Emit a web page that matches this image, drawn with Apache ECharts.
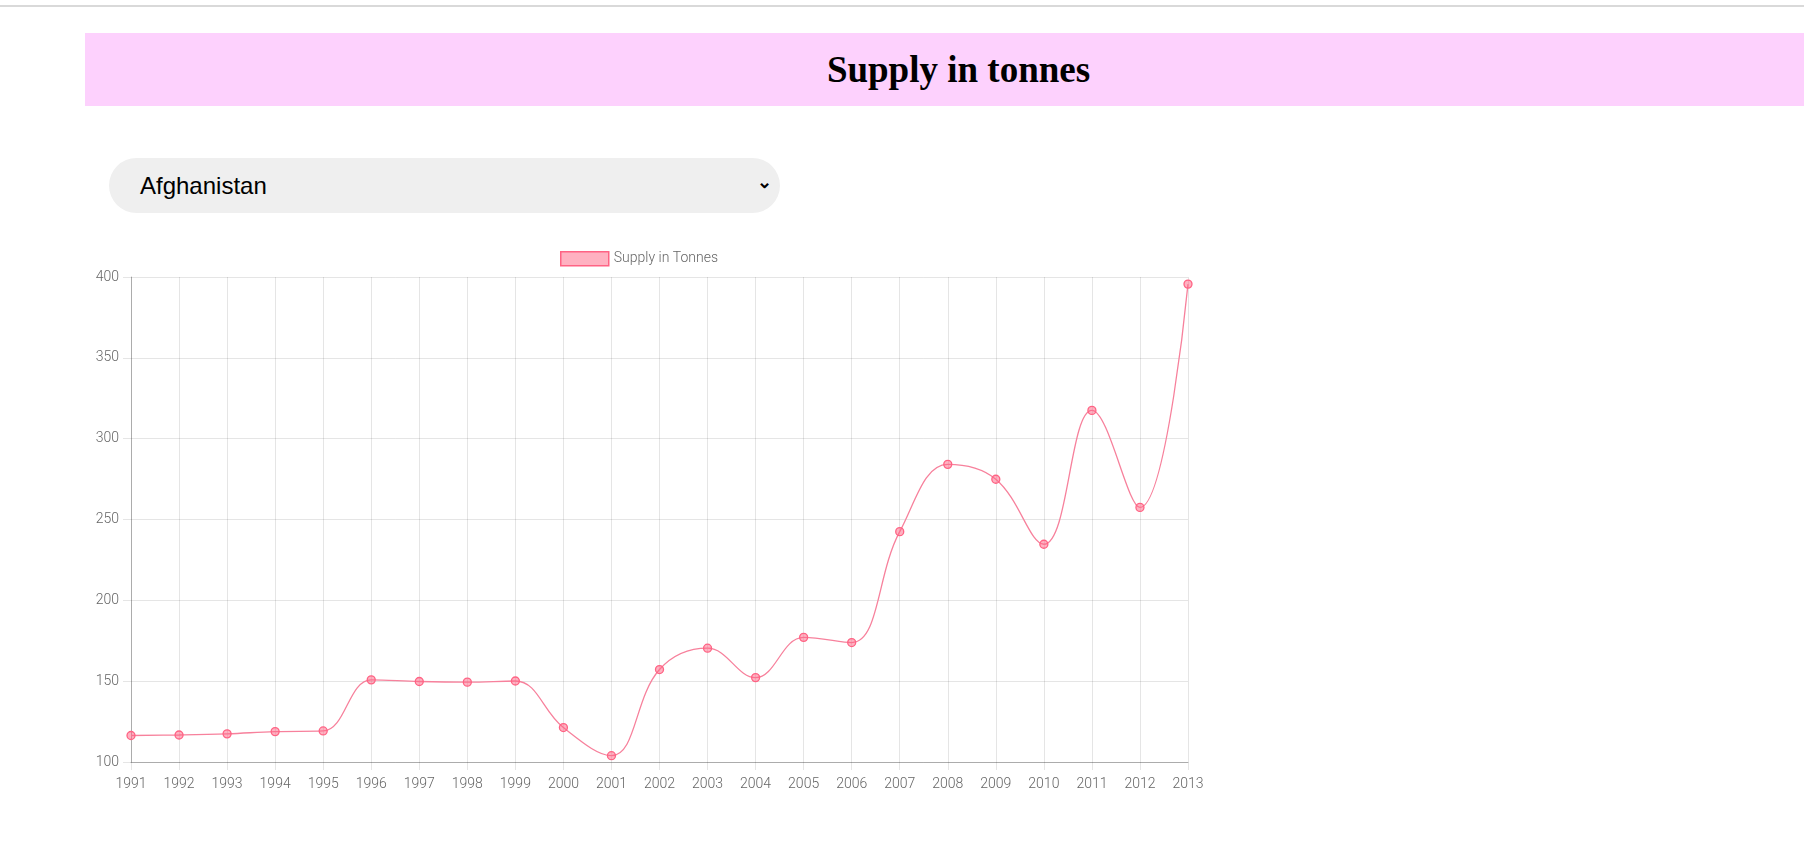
<!DOCTYPE html>
<html><head><meta charset="utf-8">
<script src="https://cdn.jsdelivr.net/npm/echarts@6/dist/echarts.min.js"></script>
<style>
html,body{margin:0;padding:0;width:1804px;height:854px;overflow:hidden;background:#fff;}
#topline{position:absolute;left:0;top:5px;width:1804px;height:0;border-top:2px solid #d9d9d9;}
#title{position:absolute;left:85px;top:33px;width:1719px;height:73px;background:#fdd1fd;text-align:center;line-height:73px;font-family:"Liberation Serif","DejaVu Serif",serif;font-weight:bold;font-size:37px;color:#000;}
#title span{position:relative;left:14px;}
#sel{position:absolute;left:109px;top:158px;width:671px;height:55px;background:#efefef;border-radius:28px;font-family:"Liberation Sans",Arial,sans-serif;font-size:24px;line-height:55px;color:#000;}
#sel span.t{position:absolute;left:31px;}
#sel span.a{position:absolute;right:8px;font-size:18px;top:-3px;font-weight:bold;}
#chart{position:absolute;left:0;top:0;width:1804px;height:854px;}
</style></head>
<body>
<div id="topline"></div>
<div id="title"><span>Supply in tonnes</span></div>
<div id="sel"><span class="t">Afghanistan</span><span class="a"></span></div>
<div id="chart"></div>
<script>
const years = ['1991','1992','1993','1994','1995','1996','1997','1998','1999','2000','2001','2002','2003','2004','2005','2006','2007','2008','2009','2010','2011','2012','2013'];
const supply = [116.4,116.7,117.4,118.8,119.2,150.8,149.8,149.4,150.1,121.3,103.9,157.2,170.4,152.2,177.1,173.9,242.5,284.1,274.9,234.7,317.5,257.5,395.6];
const yTicks = [100,150,200,250,300,350,400];
document.querySelector('#sel .a').textContent = '\u2304';
const chart = echarts.init(document.getElementById('chart'));
chart.setOption({
  animation:false,
  legend:{top:246,left:555,itemWidth:48,itemHeight:14,itemGap:8,icon:'rect',
    textStyle:{fontFamily:'Roboto',fontWeight:300,fontSize:14,color:'#666'},
    data:[{name:'Supply in Tonnes',itemStyle:{color:'rgba(255,99,132,0.5)',borderColor:'#ff6384',borderWidth:1.5}}]},
  grid:{left:131,right:616,top:277,height:485},
  xAxis:{type:'category',data:years,boundaryGap:false,
    axisLine:{lineStyle:{color:'rgba(0,0,0,0.25)'}},axisTick:{show:true,length:8,lineStyle:{color:'rgba(0,0,0,0.1)'}},
    splitLine:{show:true,lineStyle:{color:'rgba(0,0,0,0.1)'}},
    axisLabel:{fontFamily:'Roboto',fontWeight:300,fontSize:14,color:'#666',margin:15}},
  yAxis:{type:'value',min:yTicks[0],max:yTicks[yTicks.length-1],interval:50,
    axisLine:{show:true,lineStyle:{color:'rgba(0,0,0,0.25)'}},axisTick:{show:true,length:8,lineStyle:{color:'rgba(0,0,0,0.1)'}},
    splitLine:{lineStyle:{color:'rgba(0,0,0,0.1)'}},
    axisLabel:{fontFamily:'Roboto',fontWeight:300,fontSize:14,color:'#666',margin:12}},
  series:[{name:'Supply in Tonnes',type:'line',data:supply,smooth:0.4,
    symbol:'circle',symbolSize:8,
    lineStyle:{color:'#f7819c',width:1.3},
    itemStyle:{color:'rgba(255,99,132,0.5)',borderColor:'#ff6384',borderWidth:1.3}}]
});
</script>
</body></html>
